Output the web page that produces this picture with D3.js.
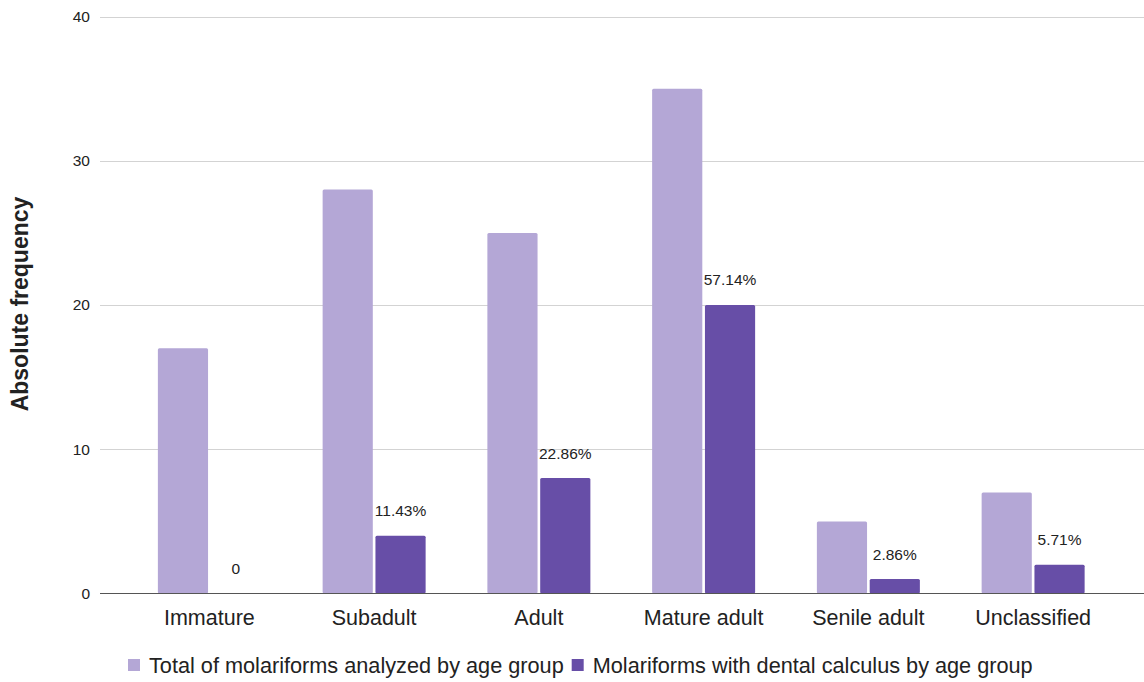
<!DOCTYPE html>
<html>
<head>
<meta charset="utf-8">
<script src="https://cdn.jsdelivr.net/npm/d3@7/dist/d3.min.js"></script>
<style>
  html, body { margin: 0; padding: 0; background: #fff; }
  svg { display: block; font-family: "Liberation Sans", Arial, sans-serif; }
</style>
</head>
<body>
<svg id="chart" width="1144" height="682"></svg>
<script>
// Age groups and counts of molariforms
const categories = ["Immature", "Subadult", "Adult", "Mature adult", "Senile adult", "Unclassified"];
const totalAnalyzed = [17, 28, 25, 35, 5, 7];
const withCalculus = [0, 4, 8, 20, 1, 2];
const calculusLabels = ["0", "11.43%", "22.86%", "57.14%", "2.86%", "5.71%"];
const yTicks = [0, 10, 20, 30, 40];
const seriesNames = [
  "Total of molariforms analyzed by age group",
  "Molariforms with dental calculus by age group"
];
const colors = ["#b4a7d6", "#674ea7"];

const svg = d3.select("#chart");
const plot = { left: 100, right: 1144, top: 16.5, bottom: 593.5 };

const x = d3.scaleBand().domain(categories).range([127, 1115.5]).paddingInner(0).paddingOuter(0);
const y = d3.scaleLinear().domain([0, 40]).range([plot.bottom, plot.top]);

const groupW = 103;
const xs = d3.scaleBand().domain([0, 1]).range([0, groupW]).paddingInner(0.05);

// horizontal gridlines
svg.append("g")
  .selectAll("line")
  .data(yTicks.filter(d => d !== 0))
  .join("line")
  .attr("x1", plot.left).attr("x2", plot.right)
  .attr("y1", d => Math.round(y(d)) + 0.5).attr("y2", d => Math.round(y(d)) + 0.5)
  .attr("stroke", "#d3d3d3").attr("stroke-width", 1);

// y tick labels
svg.append("g")
  .selectAll("text")
  .data(yTicks)
  .join("text")
  .attr("x", 90).attr("y", d => y(d))
  .attr("dy", "0.35em")
  .attr("text-anchor", "end")
  .attr("font-size", 15.5)
  .attr("fill", "#222")
  .text(d => d);

// bars
const rows = categories.map((c, i) => ({ c, vals: [totalAnalyzed[i], withCalculus[i]], label: calculusLabels[i] }));
const groups = svg.append("g")
  .selectAll("g")
  .data(rows)
  .join("g")
  .attr("transform", d => `translate(${x(d.c) + (x.bandwidth() - groupW) / 2},0)`);

groups.selectAll("rect")
  .data(d => d.vals.map((v, k) => ({ v, k })))
  .join("rect")
  .attr("x", d => xs(d.k))
  .attr("width", xs.bandwidth())
  .attr("y", d => y(d.v))
  .attr("height", d => y(0) - y(d.v))
  .attr("rx", 1.5)
  .attr("fill", d => colors[d.k]);

// value labels above the calculus bars
groups.append("text")
  .attr("x", xs(1) + xs.bandwidth() / 2)
  .attr("y", (d, i) => y(withCalculus[i]) - 25)
  .attr("dy", "0.35em")
  .attr("text-anchor", "middle")
  .attr("font-size", 15.5)
  .attr("fill", "#222")
  .text(d => d.label);

// baseline
svg.append("line")
  .attr("x1", plot.left).attr("x2", plot.right)
  .attr("y1", y(0)).attr("y2", y(0))
  .attr("stroke", "#555").attr("stroke-width", 1.2);

// category axis labels
svg.append("g")
  .selectAll("text")
  .data(categories)
  .join("text")
  .attr("x", d => x(d) + x.bandwidth() / 2)
  .attr("y", 617)
  .attr("dy", "0.35em")
  .attr("text-anchor", "middle")
  .attr("font-size", 21.5)
  .attr("fill", "#222")
  .text(d => d);

// y axis title
svg.append("text")
  .attr("transform", "translate(20,304) rotate(-90)")
  .attr("dy", "0.35em")
  .attr("text-anchor", "middle")
  .attr("font-size", 23)
  .attr("font-weight", "bold")
  .attr("fill", "#222")
  .text("Absolute frequency");

// legend
const legend = svg.append("g").attr("transform", "translate(0,665)");
let lx = 128;
seriesNames.forEach((name, i) => {
  legend.append("rect")
    .attr("x", lx).attr("y", -6).attr("width", 12).attr("height", 12)
    .attr("fill", colors[i]);
  const t = legend.append("text")
    .attr("x", lx + 21).attr("y", 0)
    .attr("dy", "0.35em")
    .attr("font-size", 21.7)
    .attr("fill", "#222")
    .text(name);
  lx += 21 + t.node().getComputedTextLength() + 8;
});
</script>
</body>
</html>
